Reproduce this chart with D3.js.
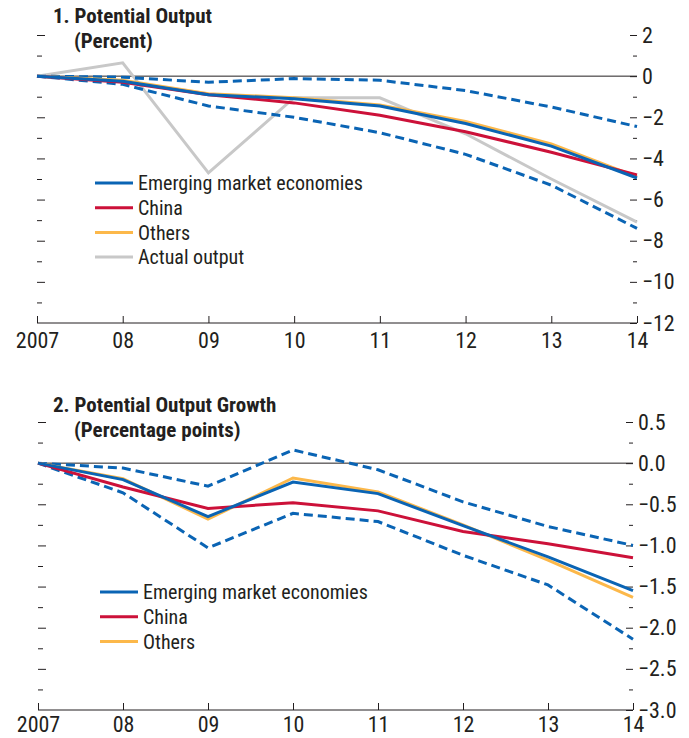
<!DOCTYPE html>
<html>
<head>
<meta charset="UTF-8">
<script src="https://cdn.jsdelivr.net/npm/d3@7"></script>
<style>
  body { margin:0; background:#fff; }
  svg text { font-family:"Liberation Sans Narrow","Roboto Condensed","Arial Narrow",sans-serif; fill:#231f20; }
  .axis path { display:none; }
  .axis line { stroke:#231f20; stroke-width:1; }
  .axis text { font-size:22px; }
  .title { font-size:21px; font-weight:bold; }
  .leg { font-size:20px; }
</style>
</head>
<body>
<div id="chart"></div>
<script>
// years and tick labels
var years = [2007, 2008, 2009, 2010, 2011, 2012, 2013, 2014];
var yearLabels = ["2007", "08", "09", "10", "11", "12", "13", "14"];

// panel 1: potential output (percent)
var p1EME    = [0, -0.25, -0.9, -1.1, -1.45, -2.3, -3.4, -4.95];
var p1China  = [0, -0.3, -0.9, -1.3, -1.9, -2.7, -3.7, -4.8];
var p1Others = [0, -0.2, -0.85, -1.05, -1.4, -2.2, -3.3, -4.9];
var p1Actual = [0, 0.65, -4.7, -1.05, -1.05, -2.8, -5.0, -7.1];
var p1Upper  = [0, -0.05, -0.3, -0.12, -0.2, -0.7, -1.5, -2.45];
var p1Lower  = [0, -0.4, -1.45, -2.0, -2.75, -3.8, -5.3, -7.4];

// panel 2: potential output growth (percentage points)
var p2EME    = [0, -0.2, -0.65, -0.23, -0.37, -0.76, -1.14, -1.55];
var p2China  = [0, -0.29, -0.55, -0.48, -0.58, -0.83, -0.98, -1.15];
var p2Others = [0, -0.19, -0.68, -0.18, -0.35, -0.75, -1.18, -1.63];
var p2Upper  = [0, -0.06, -0.28, 0.16, -0.08, -0.47, -0.77, -1.0];
var p2Lower  = [0, -0.36, -1.03, -0.61, -0.71, -1.12, -1.48, -2.14];

var blue = "#0a64b4", red = "#cc1139", orange = "#fcb84a", grey = "#c8c8c8";

var svg = d3.select("#chart").append("svg")
  .attr("width", 689).attr("height", 738);

function panel(o) {
  var x = d3.scaleLinear().domain([2007, 2014]).range([o.left, o.right]);
  var y = d3.scaleLinear().domain(o.domain).range([o.bottom, o.top]);
  var g = svg.append("g");

  // titles
  g.append("text").attr("class", "title").attr("x", 53).attr("y", o.titleY).text(o.title);
  g.append("text").attr("class", "title").attr("x", 74).attr("y", o.titleY + 25).text(o.sub);

  var major = d3.range(o.domain[0], o.domain[1] + o.step / 4, o.step);
  var minor = major.slice(0, -1).map(function(v){ return v + o.step / 2; });

  // left ticks (inward)
  g.append("g").attr("class", "axis").attr("transform", "translate(" + o.left + ",0)")
    .call(d3.axisRight(y).tickValues(major.filter(function(v){ return v != 0 && v != o.domain[0]; })).tickSize(8).tickFormat(""));
  g.append("g").attr("class", "axis").attr("transform", "translate(" + o.left + ",0)")
    .call(d3.axisRight(y).tickValues(minor).tickSize(5).tickFormat(""));

  // right axis with labels
  g.append("g").attr("class", "axis").attr("transform", "translate(" + o.right + ",0)")
    .call(d3.axisRight(y).tickValues(major).tickSizeInner(-7).tickSizeOuter(0).tickPadding(5)
      .tickFormat(function(v){ return o.fmt(v).replace("-", "\u2212"); }));
  g.append("g").attr("class", "axis").attr("transform", "translate(" + o.right + ",0)")
    .call(d3.axisRight(y).tickValues(minor).tickSize(-4).tickFormat(""));

  // zero line
  g.append("line").attr("x1", o.left).attr("x2", o.right)
    .attr("y1", y(0)).attr("y2", y(0)).attr("stroke", "#231f20").attr("stroke-width", 1);

  // x axis
  var xa = g.append("g").attr("class", "axis").attr("transform", "translate(0," + o.bottom + ")")
    .call(d3.axisBottom(x).tickValues(years).tickSizeInner(-7).tickSizeOuter(0).tickPadding(o.xPad)
      .tickFormat(function(d, i){ return yearLabels[i]; }));
  xa.append("line").attr("x1", o.left).attr("x2", o.right).attr("stroke", "#231f20").attr("stroke-width", 1.5);

  var line = d3.line().x(function(d, i){ return x(years[i]); }).y(function(d){ return y(d); });
  o.series.forEach(function(s) {
    g.append("path").attr("d", line(s.values)).attr("fill", "none")
      .attr("stroke", s.color).attr("stroke-width", 3)
      .attr("stroke-dasharray", s.dash ? "9,5" : null);
  });

  // legend
  o.legend.forEach(function(s, i) {
    var ly = o.legY + i * 24.7;
    g.append("line").attr("x1", o.legX).attr("x2", o.legX + 38).attr("y1", ly).attr("y2", ly)
      .attr("stroke", s.color).attr("stroke-width", 3);
    g.append("text").attr("class", "leg").attr("x", o.legX + 43).attr("y", ly).attr("dy", "0.36em").text(s.name);
  });
}

panel({
  title: "1. Potential Output", sub: "(Percent)", titleY: 23,
  left: 37, right: 637, top: 35, bottom: 323, domain: [-12, 2], step: 2,
  fmt: d3.format("d"), xPad: 9,
  series: [
    {values: p1Actual, color: grey},
    {values: p1Upper, color: blue, dash: true},
    {values: p1Lower, color: blue, dash: true},
    {values: p1Others, color: orange},
    {values: p1China, color: red},
    {values: p1EME, color: blue}
  ],
  legX: 95, legY: 183,
  legend: [
    {name: "Emerging market economies", color: blue},
    {name: "China", color: red},
    {name: "Others", color: orange},
    {name: "Actual output", color: grey}
  ]
});

panel({
  title: "2. Potential Output Growth", sub: "(Percentage points)", titleY: 412,
  left: 38, right: 633, top: 422, bottom: 710, domain: [-3, 0.5], step: 0.5,
  fmt: d3.format(".1f"), xPad: 6,
  series: [
    {values: p2Upper, color: blue, dash: true},
    {values: p2Lower, color: blue, dash: true},
    {values: p2Others, color: orange},
    {values: p2China, color: red},
    {values: p2EME, color: blue}
  ],
  legX: 100, legY: 592,
  legend: [
    {name: "Emerging market economies", color: blue},
    {name: "China", color: red},
    {name: "Others", color: orange}
  ]
});
</script>
</body>
</html>
